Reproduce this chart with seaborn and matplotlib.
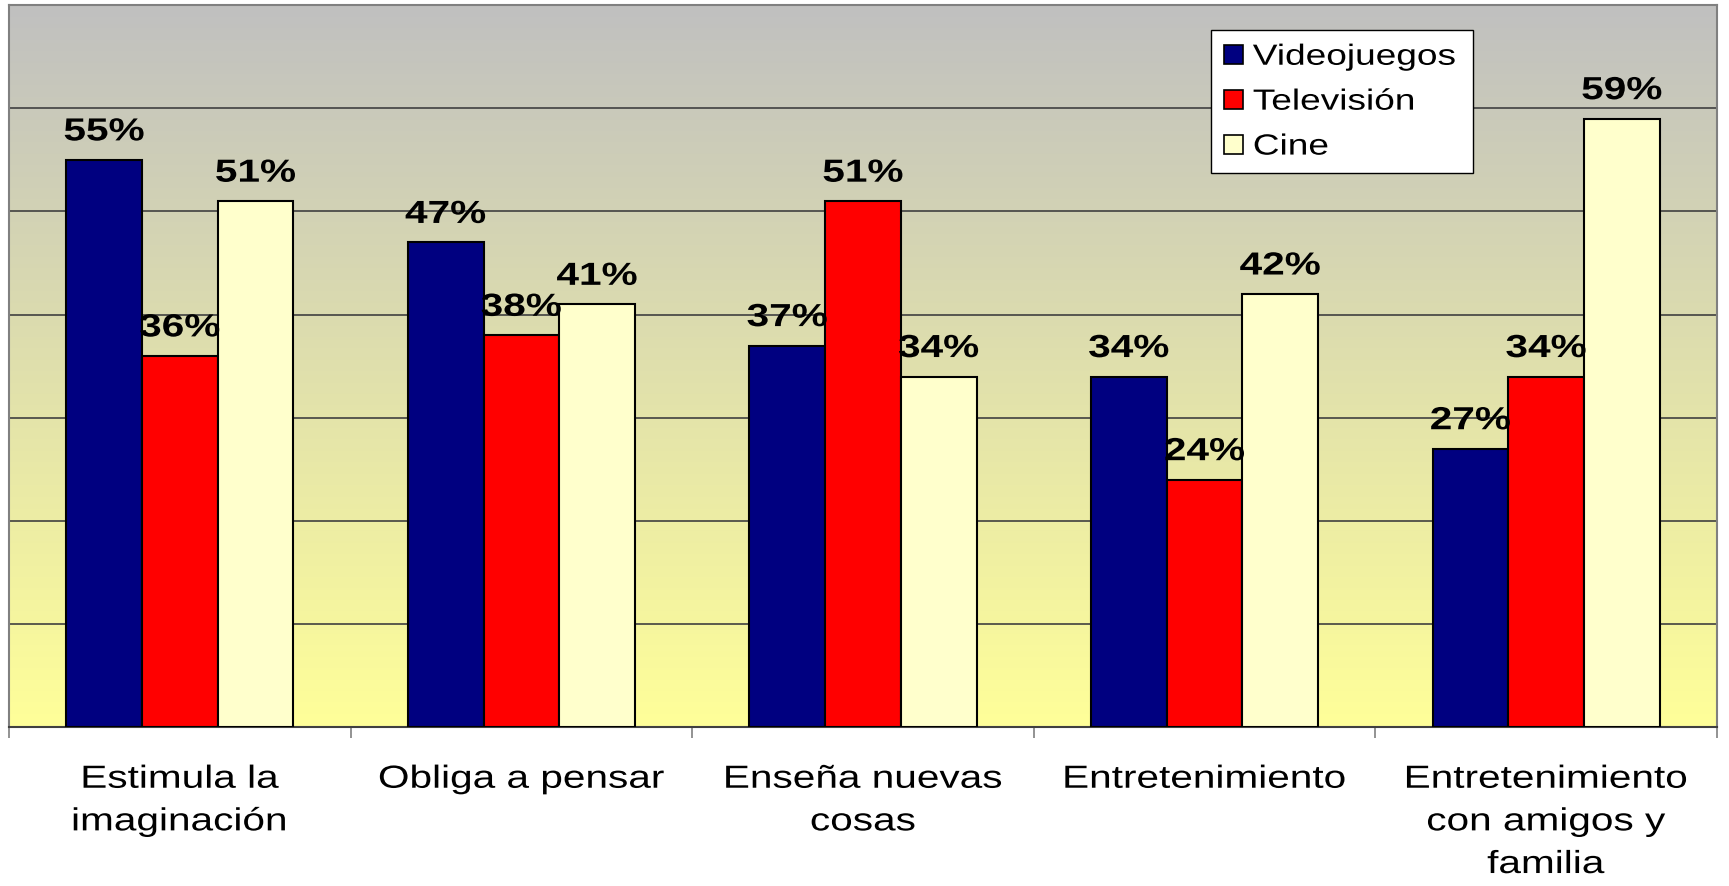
import numpy as np
import pandas as pd
import seaborn as sns
import matplotlib.pyplot as plt
from matplotlib.ticker import FixedLocator, NullFormatter
from matplotlib.patheffects import AbstractPathEffect
from matplotlib.transforms import Affine2D

# datos
categorias = ["Estimula la\nimaginación", "Obliga a pensar", "Enseña nuevas\ncosas",
              "Entretenimiento", "Entretenimiento\ncon amigos y\nfamilia"]
series = ["Videojuegos", "Televisión", "Cine"]
videojuegos = [55, 47, 37, 34, 27]
television = [36, 38, 51, 24, 34]
cine = [51, 41, 34, 42, 59]
colores = ["#000080", "#FF0000", "#FFFFCC"]

df = pd.DataFrame({
    "categoria": categorias * 3,
    "serie": [s for s in series for _ in categorias],
    "valor": videojuegos + television + cine,
})


class Stretch(AbstractPathEffect):
    # ensancha el texto horizontalmente alrededor de x = cx (pixeles)
    def __init__(self, sx, cx):
        super().__init__()
        self.sx = sx
        self.cx = cx

    def draw_path(self, renderer, gc, tpath, affine, rgbFace=None):
        t = affine + Affine2D().translate(-self.cx, 0).scale(self.sx, 1).translate(self.cx, 0)
        renderer.draw_path(gc, tpath, t, rgbFace)


STRETCH = 1.27

sns.set_style("white")
plt.rcParams["font.family"] = ["Liberation Sans", "DejaVu Sans"]
plt.rcParams["text.color"] = "black"
plt.rcParams["xtick.color"] = "black"

fig = plt.figure(figsize=(17.29, 8.87), dpi=100)
ax = fig.add_axes([0.0052, 0.179, 0.9878, 0.814])

# fondo degradado gris -> amarillo
top = np.array([0.753, 0.753, 0.753])
bottom = np.array([1.0, 1.0, 0.6])
t = np.linspace(0, 1, 256)[:, None]
grad = (top * (1 - t) + bottom * t)[:, None, :]
ax.imshow(grad, extent=(-0.5, 4.5, 0, 70), aspect="auto", zorder=0, origin="upper")

sns.barplot(data=df, x="categoria", y="valor", hue="serie", palette=colores,
            saturation=1, width=0.665, edgecolor="black", linewidth=1.5, ax=ax, zorder=3)

ax.set_xlim(-0.5, 4.5)
ax.set_ylim(0, 70)
ax.set_yticks(np.arange(10, 70, 10))
ax.set_yticklabels([])
ax.yaxis.grid(True, color="#404040", linewidth=1.2)
ax.set_axisbelow(True)
ax.tick_params(axis="y", length=0)
ax.set_xlabel("")
ax.set_ylabel("")

ax.tick_params(axis="x", which="major", length=0, labelsize=23, pad=27, labelcolor="black")
ax.xaxis.set_minor_locator(FixedLocator(np.arange(-0.5, 5, 1)))
ax.xaxis.set_minor_formatter(NullFormatter())
ax.tick_params(axis="x", which="minor", length=8, width=1.2, color="#808080", bottom=True)
for lbl in ax.get_xticklabels():
    lbl.set_linespacing(1.55)

for side in ["left", "top", "right"]:
    ax.spines[side].set_color("#808080")
    ax.spines[side].set_linewidth(1.5)
ax.spines["bottom"].set_color("#404040")
ax.spines["bottom"].set_linewidth(1.5)

etiquetas = []
for cont in ax.containers:
    etiquetas += ax.bar_label(cont, fmt="%d%%", padding=9, fontsize=23,
                              fontweight="bold", color="black")

leg = ax.legend(loc="upper left", bbox_to_anchor=(0.704, 0.965, 0.153, 0.0),
                mode="expand", borderaxespad=0, fontsize=21, frameon=True,
                fancybox=False, handlelength=0.65, handleheight=0.65,
                handletextpad=0.35, labelspacing=0.58, borderpad=0.42)
leg.get_frame().set_edgecolor("black")
leg.get_frame().set_linewidth(1.0)
leg.get_frame().set_facecolor("white")
leg.get_frame().set_alpha(1)
for h in leg.legend_handles:
    h.set_linewidth(1.2)

# aplicar el ensanchamiento despues de la maquetacion
fig.canvas.draw()
r = fig.canvas.get_renderer()
for txt in etiquetas + list(ax.get_xticklabels()):
    bb = txt.get_window_extent(r)
    txt.set_path_effects([Stretch(STRETCH, (bb.x0 + bb.x1) / 2)])
for txt in leg.get_texts():
    bb = txt.get_window_extent(r)
    txt.set_path_effects([Stretch(STRETCH, bb.x0)])

fig.savefig("out.png", dpi=100)
